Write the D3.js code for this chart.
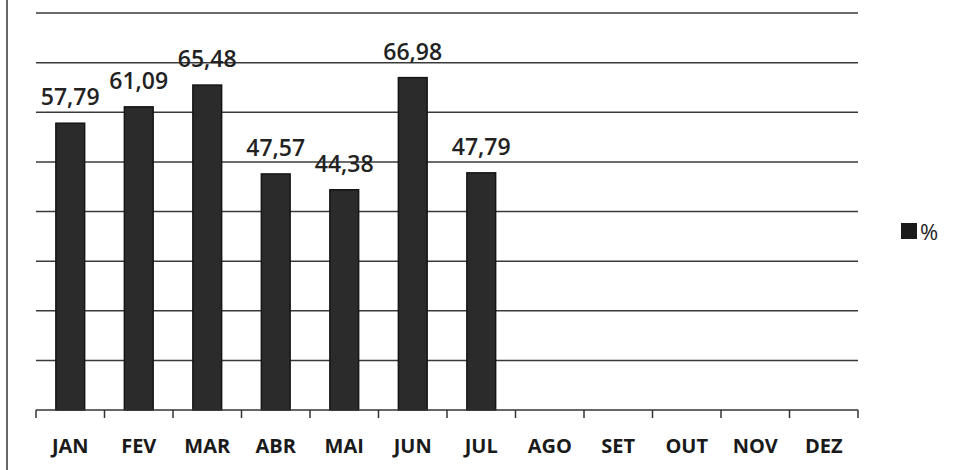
<!DOCTYPE html>
<html>
<head>
<meta charset="utf-8">
<script src="https://cdn.jsdelivr.net/npm/d3@7"></script>
<style>
  body { margin: 0; background: #fff; }
  svg { display: block; }
</style>
</head>
<body>
<div id="chart"></div>
<script>
// Chart data (monthly %)
const months = ["JAN", "FEV", "MAR", "ABR", "MAI", "JUN", "JUL", "AGO", "SET", "OUT", "NOV", "DEZ"];
const values = [57.79, 61.09, 65.48, 47.57, 44.38, 66.98, 47.79, null, null, null, null, null];
const yTicks = [0, 10, 20, 30, 40, 50, 60, 70, 80];
const seriesName = "%";

const width = 957;
const height = 470;
const margin = {left: 36, right: 99, top: 13, bottom: 60};

const svg = d3.select("#chart").append("svg")
    .attr("width", width)
    .attr("height", height);

// left frame line
svg.append("line")
    .attr("x1", 7).attr("x2", 7)
    .attr("y1", 0).attr("y2", height)
    .attr("stroke", "#333").attr("stroke-width", 1.5);

// scales
const x = d3.scaleBand()
    .domain(months)
    .range([margin.left, width - margin.right])
    .paddingInner(0.58)
    .paddingOuter(0.29);

const y = d3.scaleLinear()
    .domain([0, 80])
    .range([height - margin.bottom, margin.top]);

// gridlines
svg.append("g")
    .selectAll("line")
    .data(yTicks.filter(d => d > 0))
    .join("line")
    .attr("x1", margin.left)
    .attr("x2", width - margin.right)
    .attr("y1", d => y(d))
    .attr("y2", d => y(d))
    .attr("stroke", "#3a3a3a")
    .attr("stroke-width", 1.5);

// bars
const data = months.map((m, i) => ({month: m, value: values[i]})).filter(d => d.value != null);

svg.append("g")
    .selectAll("rect")
    .data(data)
    .join("rect")
    .attr("x", d => x(d.month))
    .attr("y", d => y(d.value))
    .attr("width", x.bandwidth())
    .attr("height", d => y(0) - y(d.value))
    .attr("fill", "#2b2b2b")
    .attr("stroke", "#151515")
    .attr("stroke-width", 1.5);

// data labels
svg.append("g")
    .selectAll("text")
    .data(data)
    .join("text")
    .attr("x", d => x(d.month) + x.bandwidth() / 2)
    .attr("y", d => y(d.value) - 18)
    .attr("text-anchor", "middle")
    .attr("font-family", "Open Sans")
    .attr("font-weight", 600)
    .attr("font-size", 23)
    .attr("fill", "#222")
    .text(d => d.value.toFixed(2).replace(".", ","));

// x axis with boundary ticks
const axis = svg.append("g")
    .attr("transform", `translate(0,${y(0)})`);

axis.append("line")
    .attr("x1", margin.left)
    .attr("x2", width - margin.right)
    .attr("stroke", "#333")
    .attr("stroke-width", 1.5);

axis.selectAll(".tick")
    .data(d3.range(months.length + 1))
    .join("line")
    .attr("class", "tick")
    .attr("x1", i => margin.left + i * x.step())
    .attr("x2", i => margin.left + i * x.step())
    .attr("y1", 0)
    .attr("y2", 8)
    .attr("stroke", "#333")
    .attr("stroke-width", 1.5);

axis.selectAll(".label")
    .data(months)
    .join("text")
    .attr("class", "label")
    .attr("x", d => x(d) + x.bandwidth() / 2)
    .attr("y", 43)
    .attr("text-anchor", "middle")
    .attr("font-family", "Open Sans")
    .attr("font-weight", 700)
    .attr("font-size", 20)
    .attr("fill", "#1a1a1a")
    .text(d => d);

// legend
const legend = svg.append("g").attr("transform", "translate(901,223)");
legend.append("rect")
    .attr("width", 16).attr("height", 16)
    .attr("fill", "#1a1a1a");
legend.append("text")
    .attr("x", 19).attr("y", 17)
    .attr("font-family", "Open Sans")
    .attr("font-size", 22)
    .attr("fill", "#222")
    .text(seriesName);
</script>
</body>
</html>
